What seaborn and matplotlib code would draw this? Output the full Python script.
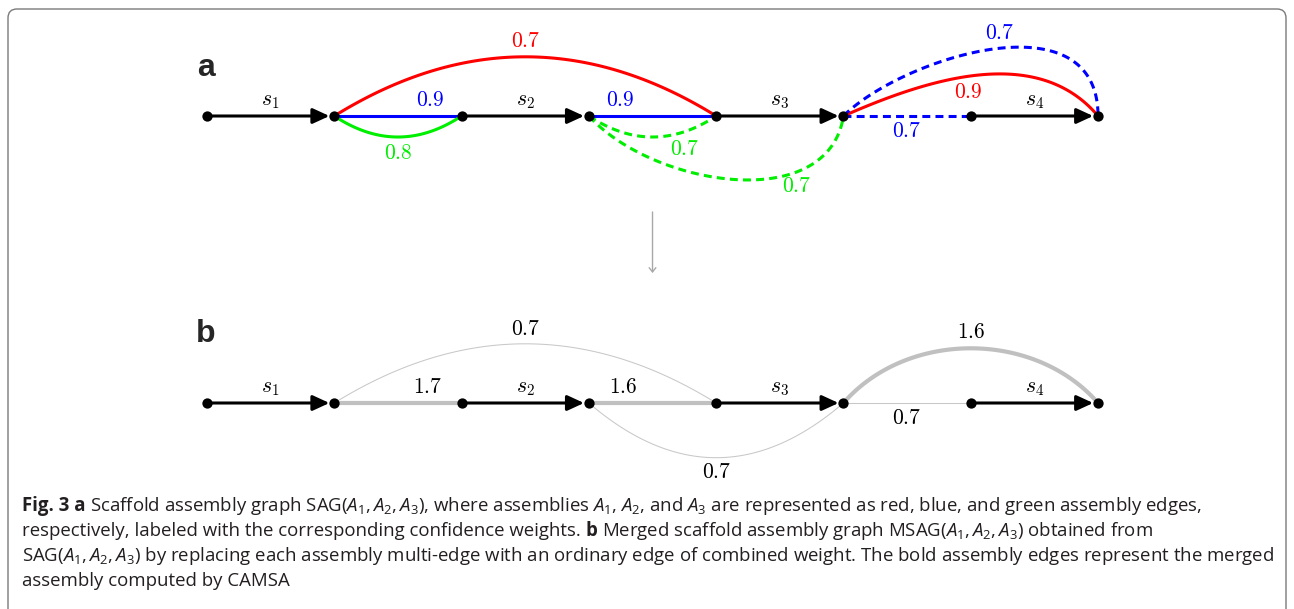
import numpy as np
import matplotlib
matplotlib.use("Agg")
import matplotlib.pyplot as plt
import seaborn as sns
import pandas as pd
from matplotlib.patches import FancyBboxPatch
from matplotlib.transforms import IdentityTransform

# ---------------- data ----------------
node_index = [0, 1, 2, 3, 4, 5, 6, 7]
contig_names = ["s_1", "s_2", "s_3", "s_4"]
contig_tail = [0, 2, 4, 6]
contig_head = [1, 3, 5, 7]

# panel a: assembly edges of SAG(A1, A2, A3)
a_from = [1, 1, 1, 3, 3, 3, 5, 5, 5]
a_to = [4, 2, 2, 4, 4, 5, 6, 7, 7]
a_assembly = ["A1", "A2", "A3", "A2", "A3", "A3", "A2", "A1", "A2"]
a_weight = [0.7, 0.9, 0.8, 0.9, 0.7, 0.7, 0.7, 0.9, 0.7]

# panel b: merged edges of MSAG(A1, A2, A3)
b_from = [1, 1, 3, 3, 5, 5]
b_to = [4, 2, 4, 5, 6, 7]
b_weight = [0.7, 1.7, 1.6, 0.7, 0.7, 1.6]
b_in_merged = [False, True, True, False, False, True]

# caption lines as (text, bold) segments
caption_lines = [
    [("Fig. 3 a", True),
     (r"Scaffold assembly graph SAG($A_1,A_2,A_3$), where assemblies $A_1$, $A_2$, and $A_3$ are represented as red, blue, and green assembly edges,", False)],
    [("respectively, labeled with the corresponding confidence weights.", False), ("b", True),
     (r"Merged scaffold assembly graph MSAG($A_1,A_2,A_3$) obtained from", False)],
    [(r"SAG($A_1,A_2,A_3$) by replacing each assembly multi-edge with an ordinary edge of combined weight. The bold assembly edges represent the merged", False)],
    [("assembly computed by CAMSA", False)],
]

# ---------------- styles / layout ----------------
assembly_color = {"A1": "#ff0000", "A2": "#0000ff", "A3": "#00ee00"}
# curve shape: (frac1, h1, frac2, h2) cubic Bezier control points
a_shape = [(1/3, 0.62, 2/3, 0.62), (1/3, 0, 2/3, 0), (1/3, -0.22, 2/3, -0.22),
           (1/3, 0, 2/3, 0), (1/3, -0.22, 2/3, -0.22), (0.25, -0.55, 0.94, -0.78),
           (1/3, 0, 2/3, 0), (0.33, 0.29, 0.76, 0.57), (0.225, 0.45, 1.0, 0.95)]
a_dashed = [False, False, False, False, True, True, True, False, True]
a_label = [(0.5, 0, 11), (0.75, 0, 11.5), (0.5, 0, -12), (0.25, 0, 11.5), (0.75, 0, -13),
           (0.7, 2, -10), (0.5, 0, -11.5), (0.46, 0, -12), (0.5, 5, 11.5)]
b_shape = [(1/3, 0.62, 2/3, 0.62), (1/3, 0, 2/3, 0), (1/3, 0, 2/3, 0),
           (1/3, -0.573, 2/3, -0.573), (1/3, 0, 2/3, 0), (0.25, 0.573, 0.75, 0.573)]
b_label = [(0.5, 0, 10), (0.73, 0, 11.5), (0.27, 0, 11.5), (0.5, 0, -11), (0.5, 0, -11), (0.5, 0, 11.5)]

W, H = 1294, 609
U = 127.29          # pixels per node step
X0PX, YAPX, YBPX = 207, 116, 403
panel_y = {"a": 0.0, "b": -(YBPX - YAPX) / U}

sns.set_theme(style="white")
plt.rcParams["mathtext.fontset"] = "custom"
plt.rcParams["mathtext.rm"] = "Open Sans"
plt.rcParams["mathtext.it"] = "Open Sans:italic"
plt.rcParams["mathtext.bf"] = "Open Sans:bold"
plt.rcParams["font.family"] = ["Open Sans", "DejaVu Sans"]

fig = plt.figure(figsize=(W / 100, H / 100), dpi=100)
fig.patch.set_facecolor("white")
ax = fig.add_axes([0, 0, 1, 1])
ax.set_xlim(-X0PX / U, (W - X0PX) / U)
ax.set_ylim(-(H - YAPX) / U, YAPX / U)
ax.axis("off")


def bezier(x0, x1, y0, shape, n=120):
    f1, h1, f2, h2 = shape
    span = x1 - x0
    P = np.array([[x0, 0], [x0 + f1 * span, h1], [x0 + f2 * span, h2], [x1, 0]], float)
    t = np.linspace(0, 1, n)[:, None]
    B = (1 - t) ** 3 * P[0] + 3 * (1 - t) ** 2 * t * P[1] + 3 * (1 - t) * t ** 2 * P[2] + t ** 3 * P[3]
    B[:, 1] += y0
    return B


def point_at(x0, x1, y0, shape, t):
    B = bezier(x0, x1, y0, shape, n=1001)
    return B[int(round(t * 1000))]


def label(x, y, txt, color, dx, dy, size=15.5):
    ax.annotate(txt, xy=(x, y), xytext=(dx, dy), textcoords="offset points",
                ha="center", va="center", color=color, fontsize=size,
                math_fontfamily="cm", zorder=6)


for p in ["a", "b"]:
    y0 = panel_y[p]
    # contig edges (black arrows)
    for name, t0, t1 in zip(contig_names, contig_tail, contig_head):
        ax.annotate("", xy=(node_index[t1], y0), xytext=(node_index[t0], y0),
                    arrowprops=dict(arrowstyle="-|>,head_length=0.5,head_width=0.23",
                                    color="black", lw=2.2, shrinkA=0, shrinkB=3.5,
                                    mutation_scale=20), zorder=4)
        label((node_index[t0] + node_index[t1]) / 2, y0, "$" + name + "$", "black", 0, 11.5)

# panel a edges
y0 = panel_y["a"]
for f, t, asm, w, shp, dsh, lab in zip(a_from, a_to, a_assembly, a_weight, a_shape, a_dashed, a_label):
    B = bezier(node_index[f], node_index[t], y0, shp)
    ax.plot(B[:, 0], B[:, 1], color=assembly_color[asm], lw=2.2,
            ls=(0, (2.6, 1.7)) if dsh else "-", solid_capstyle="butt", zorder=3)
    px, py = point_at(node_index[f], node_index[t], y0, shp, lab[0])
    label(px, py, f"${w:.1f}$", assembly_color[asm], lab[1], lab[2])

# panel b edges
y0 = panel_y["b"]
for f, t, w, bold, shp, lab in zip(b_from, b_to, b_weight, b_in_merged, b_shape, b_label):
    B = bezier(node_index[f], node_index[t], y0, shp)
    ax.plot(B[:, 0], B[:, 1], color="#c0c0c0" if bold else "#c8c8c8",
            lw=3.0 if bold else 0.75, solid_capstyle="butt", zorder=3)
    px, py = point_at(node_index[f], node_index[t], y0, shp, lab[0])
    label(px, py, f"${w:.1f}$", "black", lab[1], lab[2])

# nodes
nodes = pd.DataFrame({"x": node_index * 2,
                      "y": [panel_y["a"]] * 8 + [panel_y["b"]] * 8})
sns.scatterplot(data=nodes, x="x", y="y", color="black", s=55, linewidth=0,
                ax=ax, zorder=7, legend=False)
ax.set_xlabel("")
ax.set_ylabel("")

# panel letters
ax.annotate("a", xy=(node_index[0], panel_y["a"]), xytext=(-1, 29), textcoords="offset points",
            ha="center", va="baseline", fontsize=23, fontweight="bold", family="Liberation Sans")
ax.annotate("b", xy=(node_index[0], panel_y["b"]), xytext=(-1, 44), textcoords="offset points",
            ha="center", va="baseline", fontsize=23, fontweight="bold", family="Liberation Sans")

# transition arrow between panels
ax.annotate("", xy=(3.5, -(273 - YAPX) / U), xytext=(3.5, -(212 - YAPX) / U),
            arrowprops=dict(arrowstyle="->,head_length=0.25,head_width=0.2", color="#a8a8a8",
                            lw=1.0, shrinkA=0, shrinkB=0, mutation_scale=12))

# frame
frame = FancyBboxPatch((8, -30), W - 16, H - 8 + 30 - 1,
                       boxstyle="round,pad=0,rounding_size=9", transform=IdentityTransform(),
                       facecolor="none", edgecolor="#7a7a7a", lw=1.0)
fig.patches.append(frame)

# caption: find font size so the widest line fits, then lay out segments
r = fig.canvas.get_renderer()
probe = fig.text(0, 0, caption_lines[2][0][0], fontsize=12.5)
fig.canvas.draw()
fs = 12.5 * 1255 / probe.get_window_extent(r).width
probe.remove()
space_px = fs * 100 / 72 * 0.26

baselines = [511, 536, 561, 586]
for segs, bl in zip(caption_lines, baselines):
    xpx = 22.0
    for txt, bold in segs:
        t = fig.text(xpx / W, 1 - bl / H, txt, fontsize=fs, color="#231f20",
                     fontweight="bold" if bold else "normal", ha="left", va="baseline")
        xpx += t.get_window_extent(r).width + space_px

fig.savefig("out.png", dpi=100)
